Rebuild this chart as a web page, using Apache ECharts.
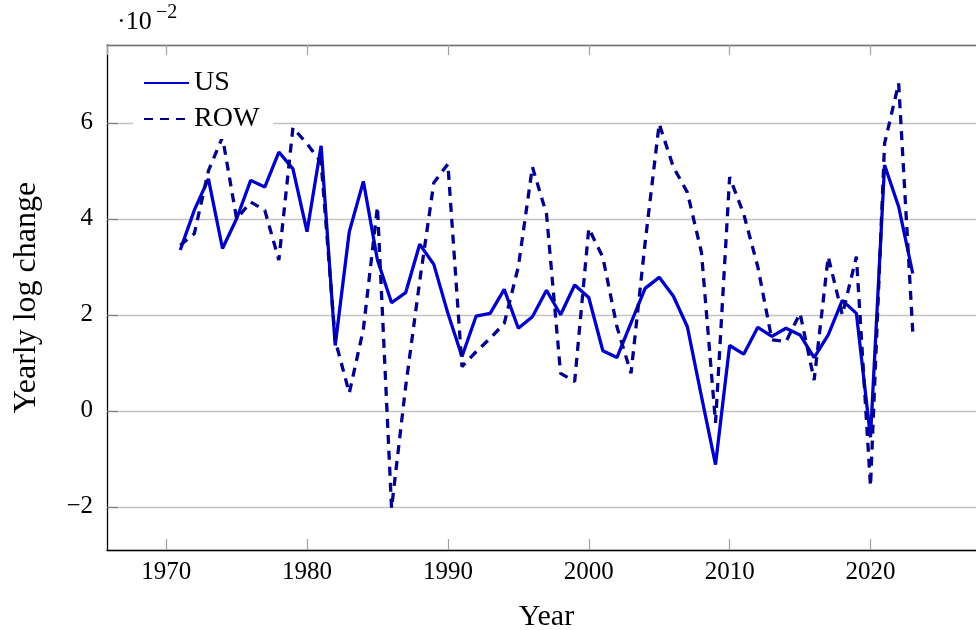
<!DOCTYPE html>
<html><head><meta charset="utf-8">
<script src="https://cdn.jsdelivr.net/npm/echarts@6/dist/echarts.min.js"></script>
<style>html,body{margin:0;padding:0;background:#fff}#c{width:976px;height:630px}</style>
</head><body><div id="c"></div>
<script>
const years = [1971,1972,1973,1974,1975,1976,1977,1978,1979,1980,
  1981,1982,1983,1984,1985,1986,1987,1988,1989,1990,
  1991,1992,1993,1994,1995,1996,1997,1998,1999,2000,
  2001,2002,2003,2004,2005,2006,2007,2008,2009,2010,
  2011,2012,2013,2014,2015,2016,2017,2018,2019,2020,
  2021,2022,2023];
const usValues = [3.35,4.18,4.83,3.38,4.0,4.8,4.66,5.39,5.04,3.73,
  5.52,1.36,3.73,4.78,3.14,2.25,2.46,3.47,3.05,2.03,
  1.13,1.97,2.03,2.53,1.72,1.96,2.51,2.0,2.62,2.36,
  1.25,1.11,1.83,2.55,2.78,2.39,1.75,0.3,-1.12,1.36,
  1.18,1.74,1.55,1.72,1.58,1.11,1.58,2.3,2.03,-0.55,
  5.12,4.25,2.86];
const rowValues = [3.45,3.69,5.0,5.7,4.0,4.35,4.18,3.14,5.9,5.56,
  5.18,1.47,0.37,1.7,4.25,-2.03,0.5,2.7,4.75,5.14,
  0.92,1.23,1.51,1.82,3.0,5.08,4.1,0.78,0.61,3.8,
  3.2,1.75,0.78,3.5,5.98,5.08,4.55,3.3,-0.25,4.87,
  4.1,3.0,1.48,1.44,2.03,0.64,3.21,2.0,3.21,-1.57,
  5.57,6.82,1.65];
const seriesNames = ['US','ROW'];
const xLabel = 'Year';
const yLabel = 'Yearly log change';

const FONT = "'Liberation Serif','DejaVu Serif',serif";
const chart = echarts.init(document.getElementById('c'), null, {renderer:'canvas'});
const fmtY = v => (v < 0 ? '\u2212' + Math.abs(v) : String(v));
const fmtX = v => String(v);

chart.setOption({
  animation: false,
  backgroundColor: '#fff',
  grid: {left: 107, right: -10, top: 45, bottom: 80, containLabel: false, outerBoundsMode: 'none'},
  xAxis: [{
    type: 'value', min: 1965.8, max: 2028.2, position: 'bottom',
    axisLine: {show: true, onZero: false, lineStyle: {color: '#000', width: 1.3}},
    axisTick: {show: true, inside: true, length: 11, lineStyle: {color: '#a0a0a0', width: 1.2}},
    axisLabel: {showMinLabel: false, showMaxLabel: false, fontSize: 25, fontFamily: FONT, color: '#000', margin: 10, formatter: fmtX},
    splitLine: {show: false},
    name: xLabel, nameLocation: 'middle', nameGap: 52,
    nameTextStyle: {fontSize: 30, fontFamily: FONT, color: '#000'}
  }, {
    type: 'value', min: 1965.8, max: 2028.2, position: 'top',
    axisLine: {show: true, onZero: false, lineStyle: {color: '#707070', width: 1.3}},
    axisTick: {show: true, inside: true, length: 10, lineStyle: {color: '#a0a0a0', width: 1.2}},
    axisLabel: {show: false},
    splitLine: {show: false}
  }],
  yAxis: [{
    type: 'value', min: -2.9, max: 7.62,
    axisLine: {show: true, onZero: false, lineStyle: {color: '#000', width: 1.3}},
    axisTick: {show: true, inside: true, length: 11, lineStyle: {color: '#808080', width: 1.2}},
    axisLabel: {showMinLabel: false, showMaxLabel: false, fontSize: 25, fontFamily: FONT, color: '#000', margin: 14, formatter: fmtY},
    splitLine: {show: true, lineStyle: {color: '#c4c4c4', width: 1.3}},
    name: yLabel, nameLocation: 'middle', nameGap: 64, nameRotate: 90,
    nameTextStyle: {fontSize: 32, fontFamily: FONT, color: '#000'}
  }],
  legend: {
    data: seriesNames, orient: 'vertical', left: 133, top: 63,
    backgroundColor: '#fff', padding: [6, 14, 6, 10],
    itemWidth: 45, itemHeight: 20, itemGap: 8,
    itemStyle: {opacity: 0, color: 'rgba(0,0,0,0)', borderWidth: 0},
    textStyle: {fontSize: 28, fontFamily: FONT, color: '#000'}
  },
  graphic: [
    {type: 'text', left: 117, top: 9, style: {text: '\u00b710', font: '26px ' + FONT, fill: '#000'}},
    {type: 'text', left: 156, top: 3, style: {text: '\u22122', font: '20px ' + FONT, fill: '#000'}}
  ],
  series: [{
    name: seriesNames[0], type: 'line', symbol: 'none', showSymbol: false,
    data: years.map((y, i) => [y, usValues[i]]),
    lineStyle: {color: '#0000c8', width: 3.3},
    itemStyle: {color: '#0000c8'}
  }, {
    name: seriesNames[1], type: 'line', symbol: 'none', showSymbol: false,
    data: years.map((y, i) => [y, rowValues[i]]),
    lineStyle: {color: '#00008c', width: 3.3, type: [9, 7]},
    itemStyle: {color: '#00008c'}
  }]
});
</script>
</body></html>
